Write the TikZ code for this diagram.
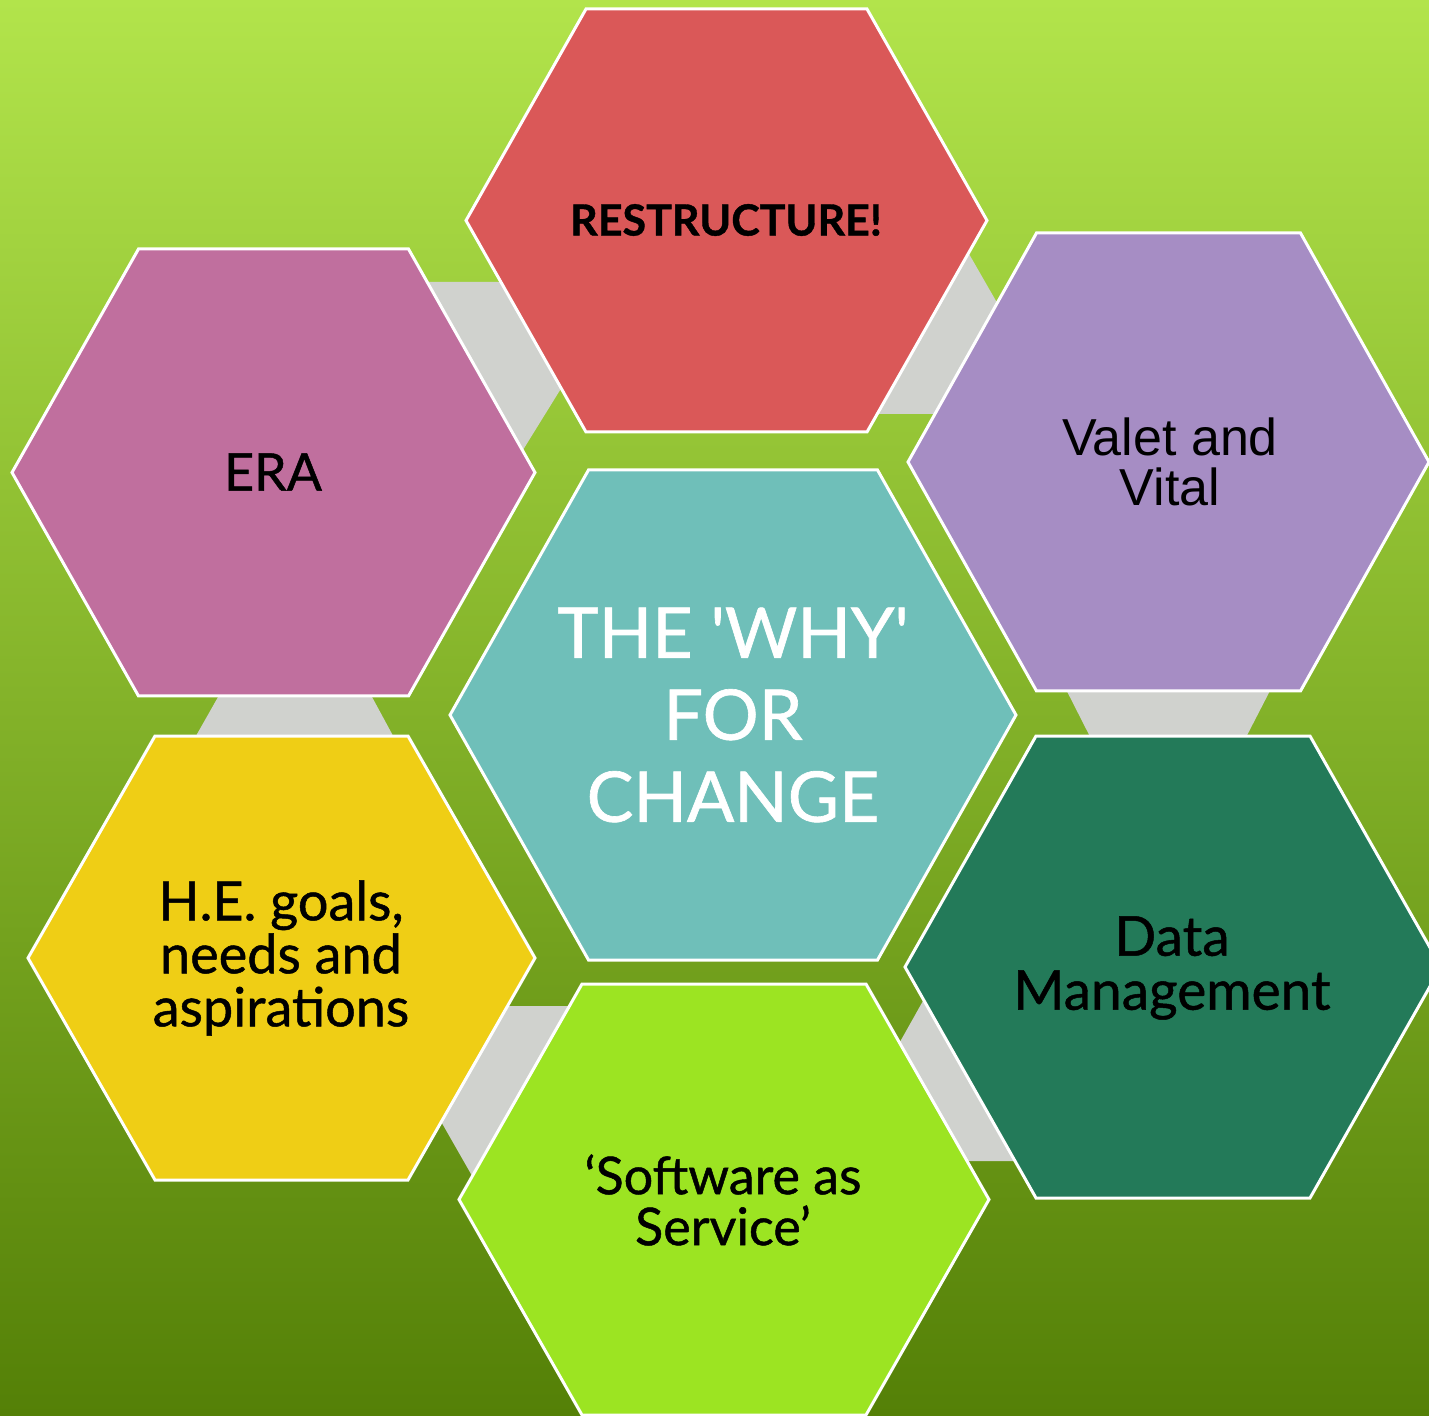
\documentclass[tikz,border=0pt]{standalone}
\usepackage{fontspec}
\newfontfamily\latofont[FakeBold=0.9]{Lato}
\newfontfamily\arialfont{Liberation Sans}
\definecolor{bgtop}{HTML}{B2E44B}
\definecolor{bgbottom}{HTML}{548007}
\definecolor{linkgray}{HTML}{D0D2CE}
\definecolor{restred}{HTML}{DA5858}
\definecolor{erapink}{HTML}{C06F9E}
\definecolor{valetlilac}{HTML}{A68DC4}
\definecolor{whyteal}{HTML}{6FBFB9}
\definecolor{goalyellow}{HTML}{EFCE15}
\definecolor{datagreen}{HTML}{237A59}
\definecolor{saaslime}{HTML}{9CE422}
% hexagon: centre x, centre y, half width, half top edge, half height
\newcommand{\hexshape}[5]{({#1-#3},#2) -- ({#1-#4},{#2-#5}) -- ({#1+#4},{#2-#5}) -- ({#1+#3},#2) -- ({#1+#4},{#2+#5}) -- ({#1-#4},{#2+#5}) -- cycle}
\begin{document}
\begin{tikzpicture}[x=0.5pt,y=-0.5pt,
    hex/.style={draw=white, line width=1.5pt, line join=miter},
    link/.style={fill=linkgray},
    lbl/.style={align=center, inner sep=0pt, text=black},
    every node/.style={font=\latofont}]
  \useasboundingbox (0,0) rectangle (1429,1416);
  \clip (0,0) rectangle (1429,1416);
  \shade[top color=bgtop, bottom color=bgbottom] (0,0) rectangle (1429,1416);
  % gray links
  \fill[link] (627,282) -- (360,282) -- (492,500) -- cycle;
  \fill[link] (1061,414) -- (800,414) -- (938,200) -- cycle;
  \fill[link] (1046,650) -- (1291,650) -- (1224,780) -- (1112,780) -- cycle;
  \fill[link] (833,1161) -- (1100,1161) -- (946,960) -- cycle;
  \fill[link] (375,1006) -- (640,1006) -- (503,1230) -- cycle;
  \fill[link] (239,660) -- (352,660) -- (417,780) -- (171,780) -- cycle;
  % hexagons
  \filldraw[hex, fill=restred] \hexshape{726.5}{220.5}{260.5}{140.5}{211.5};
  \filldraw[hex, fill=erapink] \hexshape{273.5}{472.5}{261.5}{135}{223.5};
  \filldraw[hex, fill=valetlilac] \hexshape{1168.5}{462}{260.5}{132}{229};
  \filldraw[hex, fill=whyteal] \hexshape{733}{715}{283}{144.5}{245};
  \filldraw[hex, fill=goalyellow] \hexshape{281.5}{958}{253.5}{126.5}{222};
  \filldraw[hex, fill=datagreen] \hexshape{1173}{967}{268}{137}{231};
  \filldraw[hex, fill=saaslime] \hexshape{724}{1199.5}{265}{142}{215.5};
  % labels
  \node[lbl, font=\latofont\bfseries\fontsize{21.5}{26}\selectfont] (restructure) at (726,220) {RESTRUCTURE!};
  \node[lbl, font=\latofont\fontsize{26}{30}\selectfont] (era) at (273,472) {ERA};
  \node[lbl, font=\arialfont\fontsize{26}{25}\selectfont] (valet) at (1170,462) {Valet and\\Vital};
  \node[lbl, text=white, font=\latofont\fontsize{35}{41}\selectfont] (why) at (733,715) {THE \textquotesingle WHY\textquotesingle\\FOR\\CHANGE};
  \node[lbl, font=\latofont\fontsize{27}{26.5}\selectfont] (goals) at (281,958) {H.E. goals,\\needs and\\aspirations};
  \node[lbl, font=\latofont\fontsize{27.5}{27}\selectfont] (data) at (1172,968) {Data\\Management};
  \node[lbl, font=\latofont\fontsize{26}{25.5}\selectfont] (saas) at (723,1200) {‘Software as\\Service’};
\end{tikzpicture}
\end{document}
